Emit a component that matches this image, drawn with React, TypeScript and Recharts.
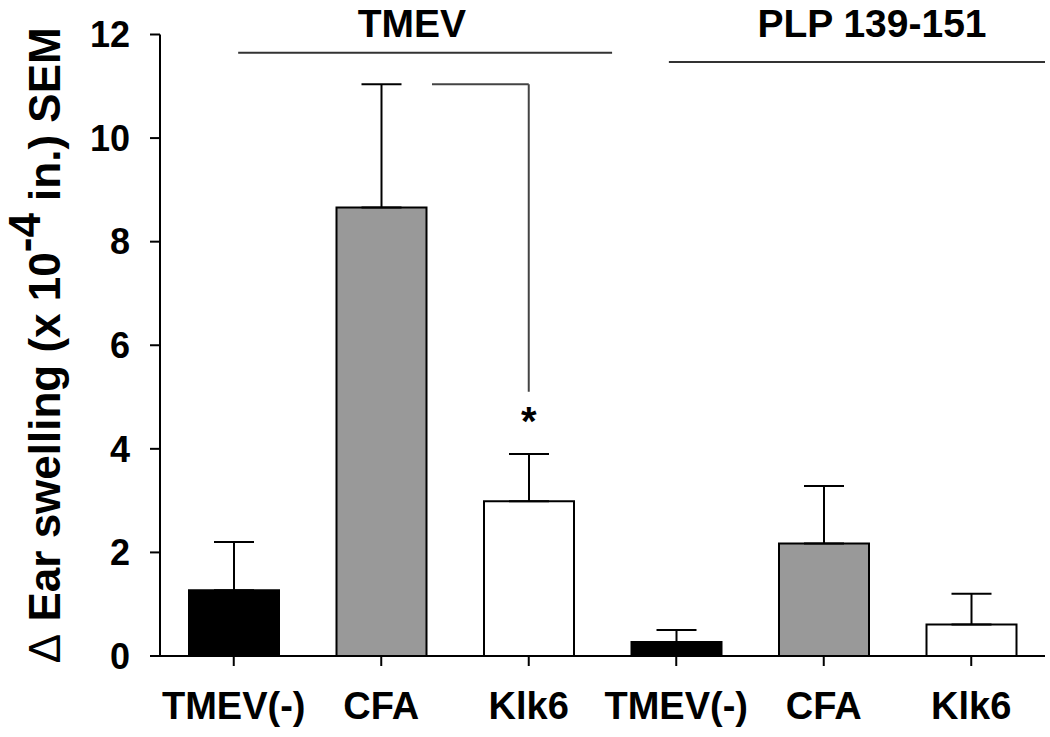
import { BarChart, Bar, Cell, XAxis, YAxis, ErrorBar, ReferenceLine, ReferenceDot } from 'recharts';

const groups = ['TMEV(-)', 'CFA', 'Klk6', 'TMEV(-)', 'CFA', 'Klk6'];
const means = [1.27, 8.66, 2.99, 0.27, 2.17, 0.61];
const sems = [0.93, 2.38, 0.91, 0.23, 1.11, 0.59];
const yTicks = [0, 2, 4, 6, 8, 10, 12];

const barFills = ['#000000', '#999999', '#ffffff', '#000000', '#999999', '#ffffff'];
const font = '"Liberation Sans", Arial, sans-serif';

const data = groups.map((g, i) => ({ pos: i, name: g, mean: means[i], err: [0, sems[i]] }));

const textShape = (txt: string, size: number) => (p: any) => (
  <text x={p.cx} y={p.cy} textAnchor="middle" fontFamily={font} fontWeight="bold" fontSize={size} fill="#000">
    {txt}
  </text>
);

const YLabel = (props: any) => {
  const vb = props.viewBox || { x: 0, y: 34.5, width: 160, height: 621.5 };
  const cx = 60;
  const cy = vb.y + vb.height / 2;
  return (
    <text
      transform={`rotate(-90, ${cx}, ${cy})`}
      x={cx}
      y={cy}
      textAnchor="middle"
      fontFamily={font}
      fontWeight="bold"
      fontSize={44}
      fill="#000"
    >
      <tspan fontWeight="normal">{'\u0394'}</tspan>
      {' Ear swelling (x 10'}
      <tspan dy={-20}>-4</tspan>
      <tspan dy={20}>{' in.) SEM'}</tspan>
    </text>
  );
};

export default function App() {
  return (
    <div style={{ position: 'absolute', left: 0, top: 0, background: '#fff' }}>
      <BarChart width={1050} height={737} data={data} margin={{ top: 34.5, right: 5, bottom: 0, left: 0 }}>
        <XAxis
          dataKey="pos"
          type="number"
          domain={[-0.5, 5.5]}
          ticks={[0, 1, 2, 3, 4, 5]}
          tickFormatter={(v: number) => groups[v]}
          interval={0}
          height={81}
          tickSize={10}
          tickMargin={26}
          axisLine={{ stroke: '#000', strokeWidth: 2 }}
          tickLine={{ stroke: '#000', strokeWidth: 2 }}
          tick={{ fill: '#000', fontSize: 38, fontWeight: 'bold', fontFamily: font }}
        />
        <YAxis
          domain={[0, 12]}
          ticks={yTicks}
          width={160}
          tickSize={10}
          tickMargin={20}
          axisLine={{ stroke: '#000', strokeWidth: 2 }}
          tickLine={{ stroke: '#000', strokeWidth: 2 }}
          tick={{ fill: '#000', fontSize: 36, fontWeight: 'bold', fontFamily: font }}
          label={<YLabel />}
        />
        <Bar dataKey="mean" barSize={90} stroke="#000" strokeWidth={2} isAnimationActive={false}>
          {data.map((d, i) => (
            <Cell key={i} fill={barFills[i]} />
          ))}
          <ErrorBar dataKey="err" width={20} stroke="#000" strokeWidth={2} direction="y" isAnimationActive={false} />
        </Bar>
        {/* group brackets */}
        <ReferenceLine segment={[{ x: 0.03, y: 11.65 }, { x: 2.565, y: 11.65 }]} stroke="#333" strokeWidth={2} />
        <ReferenceLine segment={[{ x: 2.95, y: 11.47 }, { x: 5.5, y: 11.47 }]} stroke="#333" strokeWidth={2} />
        {/* significance bracket */}
        <ReferenceLine segment={[{ x: 1.344, y: 11.04 }, { x: 2, y: 11.04 }]} stroke="#444" strokeWidth={2} />
        <ReferenceLine segment={[{ x: 2, y: 11.04 }, { x: 2, y: 5.1 }]} stroke="#444" strokeWidth={2} />
        <ReferenceDot x={1.208} y={11.95} r={0} shape={textShape('TMEV', 39)} />
        <ReferenceDot x={4.327} y={11.95} r={0} shape={textShape('PLP 139-151', 39)} />
        <ReferenceDot x={2} y={4.27} r={0} shape={textShape('*', 40)} />
      </BarChart>
    </div>
  );
}
